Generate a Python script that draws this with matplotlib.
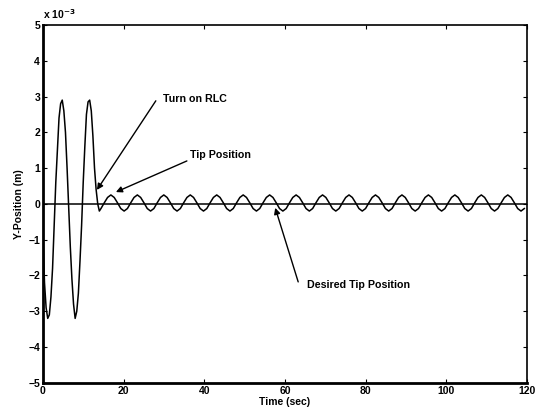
import numpy as np
import matplotlib
matplotlib.use("Agg")
import matplotlib.pyplot as plt

plt.rcParams['font.family'] = ['Liberation Sans', 'DejaVu Sans']
plt.rcParams['font.weight'] = 'bold'

# transient before RLC is switched on (units of 1e-3 m), sampled every 0.4 s
t_start = np.arange(0, 14.01, 0.4)
y_start = [-0.8, -2.2, -2.9, -3.2, -3.1, -2.6, -1.8, -0.6, 0.6, 1.5,
           2.4, 2.8, 2.9, 2.6, 2.0, 1.0, -0.1, -1.2, -2.1, -2.8,
           -3.2, -3.0, -2.5, -1.6, -0.6, 0.6, 1.6, 2.5, 2.85, 2.9,
           2.6, 1.9, 1.0, 0.4, 0.0, -0.2]

# steady tip oscillation after RLC, sampled every 0.82 s
t_steady = np.arange(14.4, 120.01, 0.82)
y_steady = [-0.13, 0.03, 0.18, 0.25, 0.18, 0.03, -0.13, -0.2,
            -0.13, 0.03, 0.18, 0.25, 0.18, 0.03, -0.13, -0.2,
            -0.13, 0.03, 0.18, 0.25, 0.18, 0.03, -0.13, -0.2,
            -0.13, 0.03, 0.18, 0.25, 0.18, 0.03, -0.13, -0.2,
            -0.13, 0.03, 0.18, 0.25, 0.18, 0.03, -0.13, -0.2,
            -0.13, 0.03, 0.18, 0.25, 0.18, 0.03, -0.13, -0.2,
            -0.13, 0.03, 0.18, 0.25, 0.18, 0.03, -0.13, -0.2,
            -0.13, 0.03, 0.18, 0.25, 0.18, 0.03, -0.13, -0.2,
            -0.13, 0.03, 0.18, 0.25, 0.18, 0.03, -0.13, -0.2,
            -0.13, 0.03, 0.18, 0.25, 0.18, 0.03, -0.13, -0.2,
            -0.13, 0.03, 0.18, 0.25, 0.18, 0.03, -0.13, -0.2,
            -0.13, 0.03, 0.18, 0.25, 0.18, 0.03, -0.13, -0.2,
            -0.13, 0.03, 0.18, 0.25, 0.18, 0.03, -0.13, -0.2,
            -0.13, 0.03, 0.18, 0.25, 0.18, 0.03, -0.13, -0.2,
            -0.13, 0.03, 0.18, 0.25, 0.18, 0.03, -0.13, -0.2,
            -0.13, 0.03, 0.18, 0.25, 0.18, 0.03, -0.13, -0.2,
            -0.13]

t_desired = [0, 120]
y_desired = [0, 0]

t = np.concatenate([t_start, t_steady[:len(y_steady)]])
y = np.concatenate([y_start, y_steady])[:len(t)]

fig = plt.figure(figsize=(5.36, 4.09), dpi=100)
ax = fig.add_axes([0.080, 0.064, 0.903, 0.875])

ax.plot(t, y, color='black', lw=1.1)
ax.plot(t_desired, y_desired, color='black', lw=1.1)

ax.set_xlim(0, 120)
ax.set_ylim(-5, 5)
ax.set_xticks([0, 20, 40, 60, 80, 100, 120])
ax.set_yticks([-5, -4, -3, -2, -1, 0, 1, 2, 3, 4, 5])
ax.tick_params(direction='in', top=True, right=True, labelsize=7.5, length=3, pad=2)
for s in ['left', 'bottom']:
    ax.spines[s].set_linewidth(2)
for s in ['top', 'right']:
    ax.spines[s].set_linewidth(1.2)

ax.set_xlabel('Time (sec)', fontsize=7.5, fontweight='bold', labelpad=1)
ax.set_ylabel('Y-Position (m)', fontsize=7.5, fontweight='bold', labelpad=3)
ax.text(0, 5.12, 'x 10$^{\\mathbf{-3}}$', fontsize=7.5, fontweight='bold', va='bottom', ha='left')

arr = dict(arrowstyle='-|>', color='black', lw=1.0, mutation_scale=9, shrinkA=0, shrinkB=0)
ax.annotate('', xy=(13.4, 0.39), xytext=(28, 2.88), arrowprops=arr)
ax.text(29.8, 2.93, 'Turn on RLC', fontsize=7.7, fontweight='bold', va='center')
ax.annotate('', xy=(18.1, 0.33), xytext=(35.7, 1.2), arrowprops=arr)
ax.text(36.5, 1.37, 'Tip Position', fontsize=7.7, fontweight='bold', va='center')
ax.annotate('', xy=(57.6, -0.11), xytext=(63.3, -2.18), arrowprops=arr)
ax.text(65.5, -2.26, 'Desired Tip Position', fontsize=7.7, fontweight='bold', va='center')

fig.savefig('out.png', dpi=100)
